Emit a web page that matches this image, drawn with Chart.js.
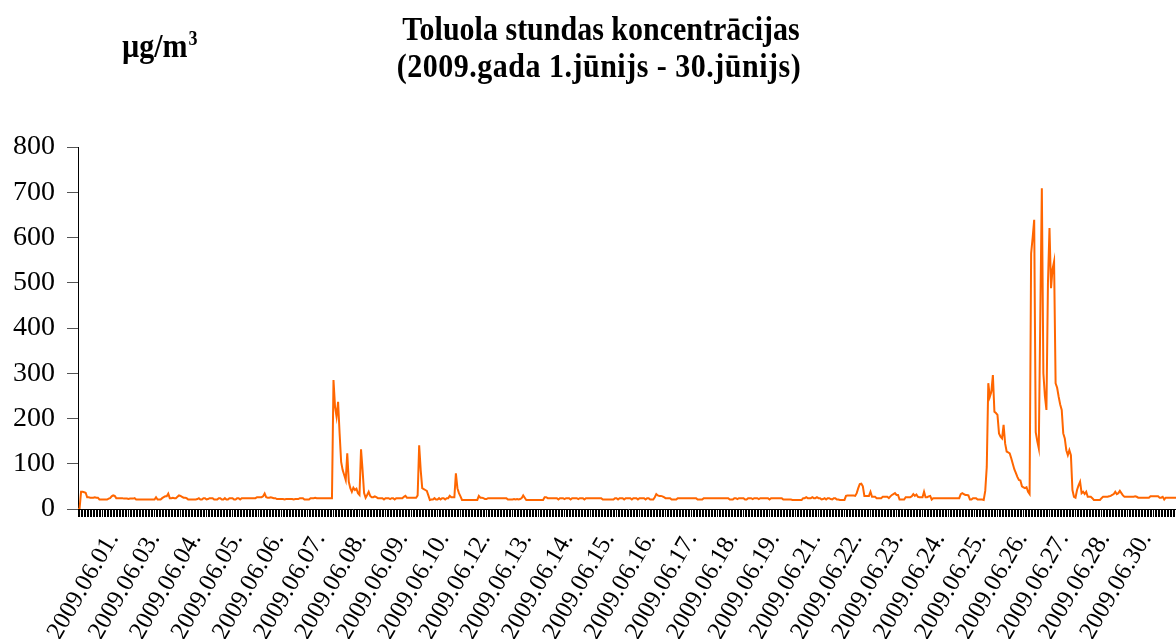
<!DOCTYPE html>
<html lang="lv">
<head>
<meta charset="utf-8">
<title>Toluola stundas koncentrācijas</title>
<script src="https://cdn.jsdelivr.net/npm/chart.js@4.4.1/dist/chart.umd.min.js"></script>
<style>
  html, body { margin: 0; padding: 0; background: #fff; overflow: hidden; }
  #wrap { width: 1180px; height: 639px; }
</style>
</head>
<body>
<div id="wrap"><canvas id="chart" width="1180" height="639"></canvas></div>
<script>
const titleLines = ["Toluola stundas koncentrācijas", "(2009.gada 1.jūnijs - 30.jūnijs)"];
const unitText = "µg/m";
const unitPower = "3";

const days = [
  "2009.06.01.", "2009.06.02.", "2009.06.03.", "2009.06.04.", "2009.06.05.",
  "2009.06.06.", "2009.06.07.", "2009.06.08.", "2009.06.09.", "2009.06.10.",
  "2009.06.11.", "2009.06.12.", "2009.06.13.", "2009.06.14.", "2009.06.15.",
  "2009.06.16.", "2009.06.17.", "2009.06.18.", "2009.06.19.", "2009.06.20.",
  "2009.06.21.", "2009.06.22.", "2009.06.23.", "2009.06.24.", "2009.06.25.",
  "2009.06.26.", "2009.06.27.", "2009.06.28.", "2009.06.29.", "2009.06.30."
];

// one row per day, 24 hourly values (µg/m3)
const hourlyValues = [
  0, 0, 38, 38, 37, 36, 26, 26, 25, 25, 25, 26, 25, 25, 21, 21, 21, 21, 21, 21, 23, 24, 28, 30,
  29, 24, 24, 24, 24, 24, 23, 23, 23, 22, 23, 23, 23, 24, 21, 21, 21, 21, 21, 21, 21, 21, 21, 21,
  21, 21, 21, 26, 21, 21, 21, 24, 26, 28, 28, 34, 24, 24, 25, 24, 24, 27, 30, 29, 27, 25, 25, 24,
  21, 21, 21, 21, 21, 21, 22, 24, 21, 21, 24, 24, 21, 22, 24, 24, 24, 21, 21, 21, 24, 24, 21, 21,
  24, 21, 21, 24, 24, 24, 21, 21, 24, 24, 21, 24, 24, 24, 24, 24, 24, 24, 24, 24, 24, 26, 26, 26,
  26, 28, 34, 26, 25, 25, 26, 25, 24, 24, 22, 22, 22, 22, 22, 21, 22, 22, 22, 22, 22, 21, 22, 22,
  22, 24, 24, 24, 21, 21, 21, 21, 24, 24, 24, 25, 24, 24, 24, 24, 24, 24, 24, 24, 24, 24, 24, 285,
  226, 204, 237, 167, 104, 86, 75, 64, 123, 60, 46, 38, 47, 42, 45, 35, 31, 132, 86, 35, 25, 31, 38, 29,
  26, 26, 28, 26, 24, 24, 24, 24, 21, 24, 24, 24, 22, 24, 24, 21, 24, 24, 24, 24, 24, 27, 29, 25,
  25, 25, 25, 25, 25, 25, 30, 141, 86, 46, 44, 42, 40, 30, 20, 21, 21, 24, 21, 21, 24, 21, 24, 24,
  21, 24, 24, 29, 26, 26, 26, 79, 46, 35, 28, 20, 20, 20, 20, 20, 20, 20, 20, 20, 20, 20, 29, 25,
  25, 24, 22, 22, 24, 24, 24, 24, 24, 24, 24, 24, 24, 24, 24, 24, 24, 21, 21, 21, 21, 22, 21, 22,
  21, 22, 24, 30, 25, 20, 20, 20, 20, 20, 20, 20, 20, 20, 20, 20, 20, 26, 26, 24, 24, 24, 24, 24,
  24, 24, 21, 24, 24, 24, 22, 24, 24, 24, 21, 24, 24, 24, 24, 22, 24, 24, 24, 21, 24, 24, 24, 24,
  24, 24, 24, 24, 24, 24, 24, 21, 21, 21, 21, 21, 21, 21, 21, 24, 24, 21, 24, 24, 24, 21, 24, 24,
  24, 24, 21, 24, 24, 24, 21, 24, 24, 24, 24, 21, 24, 24, 21, 21, 21, 26, 33, 30, 29, 29, 28, 26,
  24, 24, 24, 24, 21, 21, 21, 21, 24, 24, 24, 24, 24, 24, 24, 24, 24, 24, 24, 24, 24, 21, 21, 21,
  21, 24, 24, 24, 24, 24, 24, 24, 24, 24, 24, 24, 24, 24, 24, 24, 24, 24, 21, 21, 21, 24, 24, 22,
  24, 24, 24, 24, 21, 21, 24, 24, 24, 22, 24, 24, 24, 22, 24, 24, 24, 24, 24, 24, 21, 24, 24, 24,
  24, 24, 24, 24, 24, 21, 21, 21, 21, 21, 21, 20, 20, 20, 20, 20, 20, 20, 24, 24, 26, 24, 24, 24,
  26, 24, 24, 26, 24, 24, 21, 22, 24, 21, 24, 24, 22, 21, 24, 24, 21, 21, 20, 20, 20, 20, 29, 30,
  30, 30, 30, 30, 29, 35, 46, 55, 56, 50, 29, 29, 29, 29, 38, 27, 27, 27, 24, 24, 24, 24, 27, 27,
  27, 27, 24, 28, 31, 33, 35, 31, 31, 21, 21, 21, 21, 26, 26, 26, 26, 28, 33, 29, 32, 27, 26, 26,
  26, 38, 26, 26, 28, 29, 21, 24, 24, 24, 24, 24, 24, 24, 24, 24, 24, 24, 24, 24, 24, 24, 24, 24,
  24, 33, 35, 33, 31, 31, 30, 21, 21, 24, 24, 24, 21, 21, 21, 21, 20, 40, 93, 278, 248, 259, 296, 215,
  212, 208, 167, 160, 156, 186, 145, 127, 125, 123, 112, 100, 88, 80, 71, 64, 63, 50, 48, 46, 48, 38, 33, 565,
  600, 639, 170, 150, 134, 430, 709, 300, 250, 219, 500, 621, 488, 530, 547, 278, 268, 248, 231, 219, 167, 156, 130, 119,
  130, 119, 42, 27, 25, 42, 52, 60, 35, 38, 33, 38, 27, 27, 27, 24, 20, 20, 20, 20, 20, 24, 27, 27,
  27, 27, 28, 29, 31, 33, 38, 33, 35, 40, 35, 30, 27, 27, 27, 27, 27, 27, 27, 28, 27, 25, 25, 25,
  25, 25, 25, 25, 25, 28, 28, 28, 28, 28, 28, 25, 25, 27, 21, 25, 25, 25, 25, 25, 25, 25, 25, 25
];

const yTicks = [0, 100, 200, 300, 400, 500, 600, 700, 800];

// Excel showed a date every 27 hours
const labelEvery = 27;
const firstLabel = 23;

const categories = [];
days.forEach((day) => {
  for (let h = 0; h < 24; h++) {
    categories.push(day);
  }
});

const serif = "'Liberation Serif', 'Times New Roman', serif";

const headerText = {
  id: "headerText",
  afterDraw(chart) {
    const ctx = chart.ctx;
    ctx.save();
    ctx.fillStyle = "#000";
    ctx.textBaseline = "alphabetic";
    ctx.font = `bold 30px ${serif}`;

    // the original title font is a bit taller than it is wide
    const tall = (text, x, y, align, spacing) => {
      ctx.save();
      ctx.textAlign = align;
      ctx.letterSpacing = spacing || "0px";
      ctx.translate(x, y);
      ctx.scale(1, 1.12);
      ctx.fillText(text, 0, 0);
      ctx.restore();
    };
    tall(titleLines[0], 601, 40, "center");
    tall(titleLines[1], 599, 77, "center", "0.5px");
    tall(unitText, 122, 57, "left");

    const w = ctx.measureText(unitText).width;
    ctx.font = `bold 18px ${serif}`;
    tall(unitPower, 122 + w + 1, 45, "left");
    ctx.restore();
  }
};

new Chart(document.getElementById("chart"), {
  type: "line",
  data: {
    labels: categories,
    datasets: [
      {
        data: hourlyValues,
        borderColor: "#ff6600",
        borderWidth: 2,
        pointRadius: 0,
        tension: 0,
        fill: false
      }
    ]
  },
  options: {
    responsive: false,
    animation: false,
    devicePixelRatio: 1,
    layout: {
      padding: { top: 147, right: 2, left: 0, bottom: 0 }
    },
    plugins: {
      legend: { display: false },
      tooltip: { enabled: false },
      title: { display: false }
    },
    scales: {
      x: {
        type: "category",
        offset: false,
        grid: {
          drawOnChartArea: false,
          drawTicks: true,
          tickLength: 8,
          color: "#000",
          lineWidth: 1
        },
        border: { display: true, color: "#000", width: 1 },
        ticks: {
          autoSkip: false,
          minRotation: 60,
          maxRotation: 60,
          padding: 10,
          color: "#000",
          font: { family: serif, size: 25 },
          callback: (value, index) => (index % labelEvery === firstLabel ? categories[index] : "")
        },
        afterFit: (scale) => {
          scale.height = 130;
          scale.paddingLeft = 0;
          scale.paddingRight = 0;
        }
      },
      y: {
        min: 0,
        max: 800,
        grid: {
          drawOnChartArea: false,
          tickLength: 11,
          color: "#555"
        },
        border: { display: true, color: "#000", width: 1 },
        ticks: {
          padding: 12,
          color: "#000",
          font: { family: serif, size: 28 }
        },
        afterBuildTicks: (scale) => {
          scale.ticks = yTicks.map((value) => ({ value }));
        },
        afterFit: (scale) => {
          scale.width = 78;
        }
      }
    }
  },
  plugins: [headerText]
});
</script>
</body>
</html>
